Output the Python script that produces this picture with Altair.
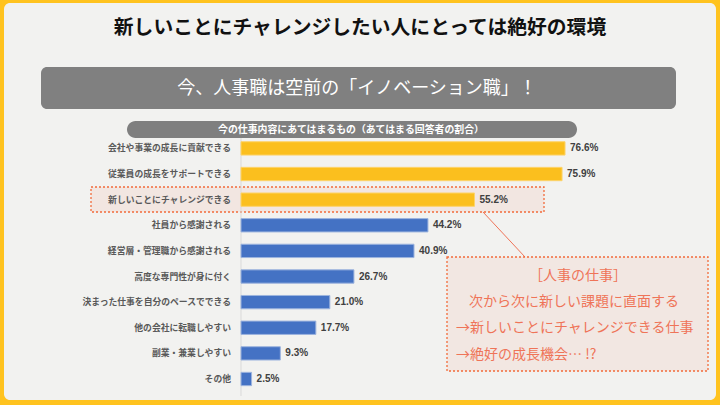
import altair as alt
import pandas as pd

# ---- data ----
categories = [
    "会社や事業の成長に貢献できる",
    "従業員の成長をサポートできる",
    "新しいことにチャレンジできる",
    "社員から感謝される",
    "経営層・管理職から感謝される",
    "高度な専門性が身に付く",
    "決まった仕事を自分のペースでできる",
    "他の会社に転職しやすい",
    "副業・兼業しやすい",
    "その他",
]
values = [76.6, 75.9, 55.2, 44.2, 40.9, 26.7, 21.0, 17.7, 9.3, 2.5]
value_labels = ["76.6%", "75.9%", "55.2%", "44.2%", "40.9%", "26.7%", "21.0%", "17.7%", "9.3%", "2.5%"]
top_n = 3

title_text = "新しいことにチャレンジしたい人にとっては絶好の環境"
banner_text = "今、人事職は空前の「イノベーション職」！"
subtitle_text = "今の仕事内容にあてはまるもの（あてはまる回答者の割合）"
callout_lines = [
    "［人事の仕事］",
    "次から次に新しい課題に直面する",
    "→新しいことにチャレンジできる仕事",
    "→絶好の成長機会… !?",
]

JP = "Noto Sans CJK JP"
YELLOW = "#FFC31F"
ORANGE = "#F26B3A"
CORAL = "#EF7458"

df = pd.DataFrame({
    "category": categories,
    "value": values,
    "label": value_labels,
    "group": ["top" if i < top_n else "other" for i in range(len(categories))],
})

one = pd.DataFrame({"k": [0]})

x_scale = alt.Scale(domain=[0, 100], range=[241, 664])
y_scale = alt.Scale(domain=categories, range=[135.6, 391.8], paddingInner=0.48, paddingOuter=0.24)


def rect(x, x2, y, y2, **kw):
    return alt.Chart(one).mark_rect(**kw).encode(
        x=alt.value(x), x2=alt.value(x2), y=alt.value(y), y2=alt.value(y2)
    )


def text(t, x, y, **kw):
    return alt.Chart(pd.DataFrame({"t": [t]})).mark_text(**kw).encode(
        x=alt.value(x), y=alt.value(y), text="t:N"
    )


panel = rect(4, 716, 3, 400, color="#F2F2F0", cornerRadius=6)
title = text(title_text, 360, 28, font=JP, fontSize=19.8, fontWeight="bold", color="#111111",
             align="center", baseline="middle")
banner = rect(41, 676, 67, 109, color="#808080", cornerRadius=6)
banner_t = text(banner_text, 357, 89, font=JP, fontSize=18, color="#FFFFFF",
                align="center", baseline="middle")
sub = rect(127, 577, 121, 138, color="#7F7F7F", cornerRadius=8.5)
sub_t = text(subtitle_text, 351, 129.5, font=JP, fontSize=9.9, fontWeight="bold", color="#FFFFFF",
             align="center", baseline="middle")

highlight = rect(91, 544, 187, 212, fill="#F2E6E1", stroke=ORANGE, strokeWidth=1.3,
                 strokeDash=[2, 2])

axis_line = alt.Chart(one).mark_rule(color="#D9D9D9", strokeWidth=1).encode(
    x=alt.value(241), y=alt.value(138), y2=alt.value(396)
)

base = alt.Chart(df)
bars = base.mark_bar(strokeWidth=1).encode(
    x=alt.X("value:Q", scale=x_scale, axis=None),
    y=alt.Y("category:N", scale=y_scale, axis=None, sort=categories),
    color=alt.Color("group:N", scale=alt.Scale(domain=["top", "other"], range=["#FBBF1E", "#4472C4"]), legend=None),
    stroke=alt.Stroke("group:N", scale=alt.Scale(domain=["top", "other"], range=["#FDD36A", "#9DB4DE"]), legend=None),
)
cat_labels = base.mark_text(font=JP, fontSize=8.8, fontWeight="bold", color="#595959",
                            align="right", baseline="middle").encode(
    x=alt.value(231),
    y=alt.Y("category:N", scale=y_scale, axis=None, sort=categories),
    text="category:N",
)
val_labels = base.mark_text(font="Liberation Sans", fontSize=10, fontWeight="bold", color="#404040",
                            align="left", baseline="middle", dx=5).encode(
    x=alt.X("value:Q", scale=x_scale, axis=None),
    y=alt.Y("category:N", scale=y_scale, axis=None, sort=categories),
    text="label:N",
)

connector = alt.Chart(one).mark_rule(color=CORAL, strokeWidth=1).encode(
    x=alt.value(483), y=alt.value(212), x2=alt.value(525), y2=alt.value(257)
)
callout = rect(447, 708, 257, 371, fill="#F2E7E2", stroke=ORANGE, strokeWidth=1.3, strokeDash=[2, 2])

c1 = text(callout_lines[0], 578, 276, font=JP, fontSize=14, color=CORAL, align="center", baseline="middle")
c2 = text(callout_lines[1], 574, 302, font=JP, fontSize=14, color=CORAL, align="center", baseline="middle")
c3 = text(callout_lines[2], 456, 328, font=JP, fontSize=14, color=CORAL, align="left", baseline="middle")
c4 = text(callout_lines[3], 456, 355, font=JP, fontSize=14, color=CORAL, align="left", baseline="middle")

chart = alt.layer(
    panel, title, banner, banner_t, sub, sub_t, highlight, axis_line,
    bars, cat_labels, val_labels, connector, callout, c1, c2, c3, c4,
).properties(
    width=720, height=405, padding=0, autosize=alt.AutoSizeParams(type="none"),
    background=YELLOW,
).configure_view(stroke=None)

chart.save("out.html", embed_options={"renderer": "svg", "actions": False})
